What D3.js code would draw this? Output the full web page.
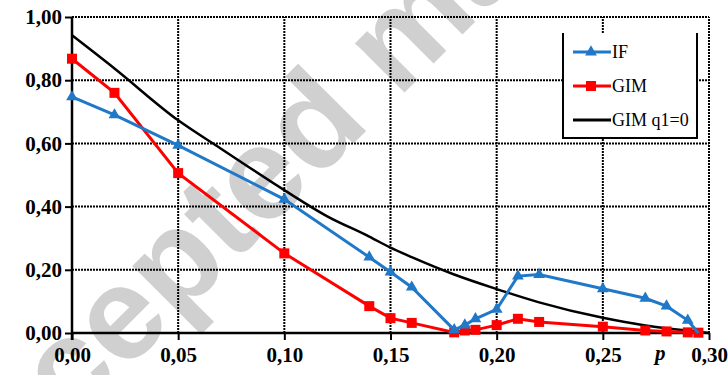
<!DOCTYPE html>
<html>
<head>
<meta charset="utf-8">
<script src="https://cdn.jsdelivr.net/npm/d3@7"></script>
<style>
  body { margin: 0; background: #fff; }
  svg { display: block; }
</style>
</head>
<body>
<div id="chart"></div>
<script>
// data
var xTicks = [0, 0.05, 0.10, 0.15, 0.20, 0.25, 0.30];
var yTicks = [0, 0.20, 0.40, 0.60, 0.80, 1.00];

var ifP =   [0, 0.02, 0.05, 0.10, 0.14, 0.15, 0.16, 0.18, 0.185, 0.19, 0.20, 0.21, 0.22, 0.25, 0.27, 0.28, 0.29, 0.295];
var ifV =   [0.747, 0.69, 0.594, 0.423, 0.24, 0.193, 0.145, 0.01, 0.025, 0.045, 0.075, 0.18, 0.185, 0.14, 0.11, 0.085, 0.04, 0.0];

var gimP =  [0, 0.02, 0.05, 0.10, 0.14, 0.15, 0.16, 0.18, 0.185, 0.19, 0.20, 0.21, 0.22, 0.25, 0.27, 0.28, 0.29, 0.295];
var gimV =  [0.868, 0.76, 0.506, 0.252, 0.085, 0.047, 0.032, 0.002, 0.008, 0.01, 0.025, 0.045, 0.035, 0.02, 0.008, 0.005, 0.002, 0.001];

var q1P =   [0, 0.02, 0.05, 0.07, 0.10, 0.12, 0.14, 0.15, 0.16, 0.18, 0.20, 0.22, 0.25, 0.27, 0.28, 0.30];
var q1V =   [0.942, 0.837, 0.673, 0.584, 0.452, 0.37, 0.305, 0.27, 0.24, 0.185, 0.139, 0.097, 0.048, 0.024, 0.015, 0.0];

var seriesNames = ["IF", "GIM", "GIM q1=0"];
var seriesColors = ["#1f78c8", "#ff0000", "#000000"];

var W = 728, H = 375;
var margin = {top: 17, right: 19, bottom: 42, left: 72};
var serif = "'Liberation Serif', 'Times New Roman', serif";

var svg = d3.select("#chart").append("svg")
    .attr("width", W)
    .attr("height", H);

var x = d3.scaleLinear().domain([0, 0.30]).range([margin.left, W - margin.right]);
var y = d3.scaleLinear().domain([0, 1]).range([H - margin.bottom, margin.top]);

function fmt(v) { return d3.format(".2f")(v).replace(".", ","); }

// watermark
svg.append("text")
    .attr("transform", "translate(-48,545) rotate(-45)")
    .style("font-family", "'Liberation Sans', Arial, sans-serif")
    .style("font-weight", "bold")
    .style("font-size", "132px")
    .style("fill", "#d0d0d0")
    .text("Accepted manuscript");

// grid
svg.append("g").selectAll("line")
    .data(yTicks.slice(1))
    .enter().append("line")
    .attr("x1", x(0)).attr("x2", x(0.30))
    .attr("y1", function(d) { return y(d); })
    .attr("y2", function(d) { return y(d); })
    .attr("stroke", "#000")
    .attr("stroke-width", 2)
    .attr("stroke-dasharray", "2,1");

svg.append("g").selectAll("line")
    .data(xTicks.slice(1))
    .enter().append("line")
    .attr("y1", y(0)).attr("y2", y(1))
    .attr("x1", function(d) { return x(d); })
    .attr("x2", function(d) { return x(d); })
    .attr("stroke", "#000")
    .attr("stroke-width", 2)
    .attr("stroke-dasharray", "2,1");

// axes
var xAxis = d3.axisBottom(x).tickValues(xTicks).tickSize(7).tickFormat(fmt);
var gx = svg.append("g")
    .attr("transform", "translate(0," + y(0) + ")")
    .call(xAxis);
gx.selectAll(".tick line").attr("stroke-width", 2);
gx.selectAll(".tick text")
    .attr("y", 14)
    .attr("dy", "0.71em")
    .style("font-family", serif)
    .style("font-weight", "bold")
    .style("font-size", "21px");

var yAxis = d3.axisLeft(y).tickValues(yTicks).tickSize(7).tickFormat(fmt);
var gy = svg.append("g")
    .attr("transform", "translate(" + x(0) + ",0)")
    .call(yAxis);
gy.selectAll(".tick line").attr("stroke-width", 2);
gy.selectAll(".tick text")
    .attr("x", -10)
    .style("font-family", serif)
    .style("font-weight", "bold")
    .style("font-size", "21px");

svg.selectAll(".domain").remove();
svg.append("line").attr("x1", x(0)).attr("x2", x(0.30)).attr("y1", y(0)).attr("y2", y(0))
    .attr("stroke", "#000").attr("stroke-width", 2.5);
svg.append("line").attr("x1", x(0)).attr("x2", x(0)).attr("y1", y(0) + 7).attr("y2", y(1))
    .attr("stroke", "#000").attr("stroke-width", 2.5);

svg.append("text")
    .attr("x", 655)
    .attr("y", 360)
    .style("font-family", serif)
    .style("font-style", "italic")
    .style("font-weight", "bold")
    .style("font-size", "21px")
    .text("p");

// series
var line = d3.line()
    .x(function(d) { return x(d[0]); })
    .y(function(d) { return y(d[1]); });

var q1Data = d3.zip(q1P, q1V);
svg.append("path")
    .datum(q1Data)
    .attr("fill", "none")
    .attr("stroke", seriesColors[2])
    .attr("stroke-width", 2.5)
    .attr("d", line.curve(d3.curveMonotoneX));

line.curve(d3.curveLinear);

var gimData = d3.zip(gimP, gimV);
svg.append("path")
    .datum(gimData)
    .attr("fill", "none")
    .attr("stroke", seriesColors[1])
    .attr("stroke-width", 3)
    .attr("d", line);
svg.append("g").selectAll("rect")
    .data(gimData)
    .enter().append("rect")
    .attr("x", function(d) { return x(d[0]) - 5; })
    .attr("y", function(d) { return y(d[1]) - 5; })
    .attr("width", 10).attr("height", 10)
    .attr("fill", seriesColors[1]);

var ifData = d3.zip(ifP, ifV);
svg.append("path")
    .datum(ifData)
    .attr("fill", "none")
    .attr("stroke", seriesColors[0])
    .attr("stroke-width", 3)
    .attr("d", line);
var tri = d3.symbol().type(d3.symbolTriangle).size(60);
svg.append("g").selectAll("path")
    .data(ifData.slice(0, ifData.length - 1))
    .enter().append("path")
    .attr("transform", function(d) { return "translate(" + x(d[0]) + "," + y(d[1]) + ")"; })
    .attr("d", tri)
    .attr("fill", seriesColors[0]);

// legend
var lg = svg.append("g");
lg.append("rect")
    .attr("x", 563).attr("y", 33).attr("width", 134).attr("height", 105)
    .attr("fill", "#fff");
lg.append("path")
    .attr("d", "M563,33V138H697V33")
    .attr("fill", "none")
    .attr("stroke", "#000")
    .attr("stroke-width", 2);

var legY = [52, 86, 120];
seriesNames.forEach(function(name, i) {
    lg.append("line")
        .attr("x1", 573).attr("x2", 611)
        .attr("y1", legY[i]).attr("y2", legY[i])
        .attr("stroke", seriesColors[i])
        .attr("stroke-width", 3);
    if (i === 0) {
        lg.append("path").attr("transform", "translate(591," + legY[i] + ")")
            .attr("d", tri).attr("fill", seriesColors[i]);
    } else if (i === 1) {
        lg.append("rect").attr("x", 586).attr("y", legY[i] - 5)
            .attr("width", 10).attr("height", 10).attr("fill", seriesColors[i]);
    }
    lg.append("text")
        .attr("x", 612)
        .attr("y", legY[i] + 6)
        .style("font-family", serif)
        .style("font-size", "18px")
        .text(name);
});
</script>
</body>
</html>
